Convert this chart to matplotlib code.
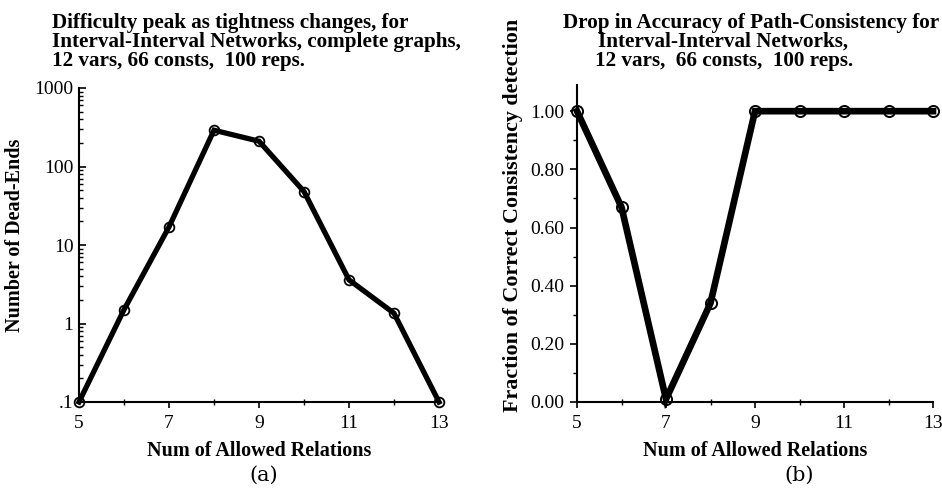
import matplotlib
matplotlib.use("Agg")
import matplotlib.pyplot as plt
from matplotlib.ticker import LogLocator, FixedLocator, NullFormatter, FixedFormatter

relations = [5, 6, 7, 8, 9, 10, 11, 12, 13]
dead_ends = [0.1, 1.5, 17, 290, 210, 48, 3.6, 1.35, 0.1]
fraction_correct = [1.0, 0.67, 0.01, 0.34, 1.0, 1.0, 1.0, 1.0, 1.0]

left_title = ["Difficulty peak as tightness changes, for",
              "Interval-Interval Networks, complete graphs,",
              "12 vars, 66 consts,  100 reps."]
right_title = ["Drop in Accuracy of Path-Consistency for",
               "Interval-Interval Networks,",
               "12 vars,  66 consts,  100 reps."]
log_ticks = [0.1, 1, 10, 100, 1000]
log_labels = [".1", "1", "10", "100", "1000"]
frac_ticks = [0.0, 0.2, 0.4, 0.6, 0.8, 1.0]
x_ticks = [5, 7, 9, 11, 13]

serif = "Liberation Serif"
W, H = 942, 488
fig = plt.figure(figsize=(W / 100, H / 100), dpi=100)

def box(x0, x1, ytop, ybot):
    return [x0 / W, 1 - ybot / H, (x1 - x0) / W, (ybot - ytop) / H]

# ---- left panel
ax1 = fig.add_axes(box(79, 439, 88, 402))
ax1.plot(relations, dead_ends, color="black", lw=0, marker="o", ms=7,
         mfc="white", mec="black", mew=1.3, zorder=2)
ax1.plot(relations, dead_ends, color="black", lw=3.8, zorder=3,
         solid_joinstyle="miter")
ax1.set_yscale("log")
ax1.set_ylim(0.1, 1000)
ax1.set_xlim(5, 13)
ax1.yaxis.set_major_locator(FixedLocator(log_ticks))
ax1.yaxis.set_major_formatter(FixedFormatter(log_labels))
ax1.yaxis.set_minor_locator(LogLocator(base=10, subs=range(2, 10)))
ax1.yaxis.set_minor_formatter(NullFormatter())
ax1.tick_params(axis="y", which="major", direction="in", length=5, width=1.2)
ax1.tick_params(axis="y", which="minor", direction="in", length=3, width=1)

# ---- right panel
ax2 = fig.add_axes(box(577, 933, 85, 402))
ax2.plot(relations, fraction_correct, color="black", lw=0, marker="o", ms=8,
         mfc="white", mec="black", mew=1.4, zorder=2)
ax2.plot(relations, fraction_correct, color="black", lw=4.8, zorder=3,
         solid_joinstyle="miter")
ax2.set_ylim(0, 1.09)
ax2.set_xlim(5, 13)
ax2.yaxis.set_major_locator(FixedLocator(frac_ticks))
ax2.yaxis.set_major_formatter(FixedFormatter([f"{v:.2f}" for v in frac_ticks]))
ax2.yaxis.set_minor_locator(FixedLocator([0.1, 0.3, 0.5, 0.7, 0.9]))
ax2.tick_params(axis="y", which="major", direction="out", length=5, width=1.2)
ax2.tick_params(axis="y", which="minor", direction="out", length=3, width=1)

for ax in (ax1, ax2):
    for s in ("top", "right"):
        ax.spines[s].set_visible(False)
    for s in ("left", "bottom"):
        ax.spines[s].set_linewidth(1.5)
    ax.xaxis.set_major_locator(FixedLocator(x_ticks))
    ax.xaxis.set_minor_locator(FixedLocator([6, 8, 10, 12]))
    ax.tick_params(axis="x", which="major", direction="out", length=4, width=1.2)
    ax.tick_params(axis="x", which="minor", direction="inout", length=4, width=1)
    ax.tick_params(axis="x", labelsize=14, pad=5)
    ax.tick_params(axis="y", labelsize=14, pad=4)
    for lab in ax.get_xticklabels() + ax.get_yticklabels():
        lab.set_fontfamily(serif)
    for l in ax.get_lines():
        l.set_clip_on(False)
    ax.set_xlabel("Num of Allowed Relations", fontfamily=serif, fontweight="bold",
                  fontsize=14.5, labelpad=7)

ax1.set_ylabel("Number of Dead-Ends", fontfamily=serif, fontweight="bold",
               fontsize=14.5)
ax1.yaxis.set_label_coords((25 - 79) / 360, (402 - 235) / 314)
ax2.set_ylabel("Fraction of Correct Consistency detection", fontfamily=serif,
               fontweight="bold", fontsize=15.8)
ax2.yaxis.set_label_coords((523 - 577) / 356, (402 - 215) / 317)

# titles
title_y = [23, 42, 61]
for i, t in enumerate(left_title):
    fig.text(52 / W, 1 - title_y[i] / H, t, fontfamily=serif, fontweight="bold",
             fontsize=15.2, ha="left", va="center")
r_centers = [751, 723, 724]
for i, t in enumerate(right_title):
    fig.text(r_centers[i] / W, 1 - title_y[i] / H, t, fontfamily=serif,
             fontweight="bold", fontsize=15.2, ha="center", va="center")

fig.text(264 / W, 1 - 475 / H, "(a)", fontfamily="DejaVu Serif", fontsize=15,
         ha="center", va="center")
fig.text(799 / W, 1 - 475 / H, "(b)", fontfamily="DejaVu Serif", fontsize=15,
         ha="center", va="center")

fig.savefig("out.png", dpi=100)
